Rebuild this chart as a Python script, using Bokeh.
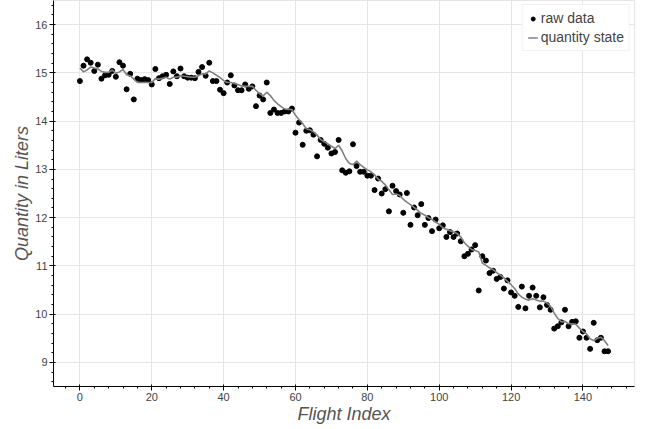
from bokeh.plotting import figure
from bokeh.models import Range1d, Legend, LegendItem
from bokeh.embed import file_html
from bokeh.resources import INLINE

raw_data = [
    14.83, 15.15, 15.28, 15.21, 15.04, 15.17, 14.88, 14.95, 14.96, 15.04,
    14.92, 15.22, 15.15, 14.66, 14.98, 14.45, 14.88, 14.85, 14.87, 14.85,
    14.76, 15.08, 14.89, 14.93, 14.96, 14.77, 15.03, 14.93, 15.09, 14.93,
    14.90, 14.90, 14.89, 15.02, 15.12, 14.94, 15.21, 14.83, 14.83, 14.65,
    14.58, 14.80, 14.95, 14.74, 14.64, 14.64, 14.76, 14.67, 14.72, 14.31,
    14.53, 14.45, 14.80, 14.17, 14.24, 14.17, 14.17, 14.20, 14.20, 14.26,
    13.76, 13.97, 13.51, 13.80, 13.81, 13.72, 13.27, 13.61, 13.53, 13.45,
    13.33, 13.36, 13.61, 12.98, 12.93, 12.96, 13.52, 13.07, 12.95, 12.95,
    12.87, 12.87, 12.57, 12.81, 12.50, 12.59, 12.13, 12.66, 12.55, 12.48,
    12.10, 12.51, 11.85, 12.21, 12.05, 12.28, 11.85, 11.99, 11.72, 11.96,
    11.78, 11.84, 11.60, 11.70, 11.60, 11.67, 11.51, 11.20, 11.25, 11.34,
    11.43, 10.49, 11.20, 11.11, 10.85, 10.90, 10.73, 10.77, 10.53, 10.70,
    10.45, 10.38, 10.15, 10.57, 10.12, 10.38, 10.55, 10.38, 10.14, 10.35,
    10.19, 10.09, 9.70, 9.75, 9.83, 10.09, 9.75, 9.84, 9.85, 9.51,
    9.64, 9.51, 9.28, 9.82, 9.46, 9.51, 9.23, 9.23,
]

quantity_state = [
    15.10, 15.02, 15.06, 15.12, 15.10, 15.08, 15.03, 15.01, 15.01, 15.06,
    14.99, 15.02, 15.07, 14.96, 14.94, 14.87, 14.80, 14.80, 14.80, 14.80,
    14.80, 14.88, 14.87, 14.89, 14.91, 14.87, 14.91, 14.91, 14.94, 14.93,
    14.92, 14.91, 14.91, 14.94, 14.98, 14.98, 15.04, 15.00, 14.95, 14.90,
    14.84, 14.80, 14.80, 14.78, 14.76, 14.73, 14.72, 14.72, 14.72, 14.64,
    14.57, 14.52, 14.60, 14.53, 14.43, 14.36, 14.30, 14.25, 14.24, 14.24,
    14.12, 14.03, 13.95, 13.84, 13.82, 13.78, 13.71, 13.62, 13.57, 13.53,
    13.48, 13.43, 13.50, 13.38, 13.22, 13.12, 13.10, 13.17, 13.10, 13.04,
    12.99, 12.95, 12.89, 12.80, 12.75, 12.68, 12.58, 12.48, 12.49, 12.46,
    12.38, 12.32, 12.27, 12.21, 12.15, 12.09, 12.05, 12.00, 11.96, 11.91,
    11.86, 11.79, 11.76, 11.73, 11.70, 11.67, 11.60, 11.48, 11.41, 11.34,
    11.32, 11.29, 11.06, 11.01, 10.96, 10.92, 10.86, 10.81, 10.75, 10.68,
    10.61, 10.53, 10.42, 10.35, 10.31, 10.29, 10.32, 10.29, 10.27, 10.27,
    10.23, 10.16, 10.02, 9.91, 9.84, 9.85, 9.80, 9.80, 9.79, 9.71,
    9.64, 9.59, 9.49, 9.45, 9.50, 9.52, 9.45, 9.35,
]

flight_index = list(range(len(raw_data)))

p = figure(
    width=639, height=426,
    output_backend="svg", toolbar_location=None,
    x_range=Range1d(-7.35, 154.35), y_range=Range1d(8.5, 16.5),
    min_border_top=0, min_border_right=5, min_border_left=53,
)

sc = p.scatter(flight_index, raw_data, size=5, color="black")
ln = p.line(flight_index, quantity_state, line_color="gray", line_width=1.6)

p.xaxis.axis_label = "Flight Index"
p.yaxis.axis_label = "Quantity in Liters"
for ax in (p.xaxis[0], p.yaxis[0]):
    ax.axis_label_text_font_size = "18px"
    ax.axis_label_text_font_style = "italic"
    ax.axis_label_text_color = "#555555"
    ax.axis_label_standoff = 0
    ax.major_label_text_font_size = "11px"
    ax.major_label_text_color = "#444444"
    ax.major_label_standoff = 2
    ax.major_tick_out = 4
    ax.minor_tick_out = 2

legend = Legend(items=[
    LegendItem(label="raw data", renderers=[sc]),
    LegendItem(label="quantity state", renderers=[ln]),
], location="top_right")
legend.label_text_font_size = "14px"
legend.glyph_width = 10
legend.glyph_height = 15
legend.label_standoff = 3
legend.padding = 5
legend.spacing = 3
legend.margin = 4
legend.label_height = 15
p.add_layout(legend)

open("out.html", "w").write(file_html(p, INLINE))
